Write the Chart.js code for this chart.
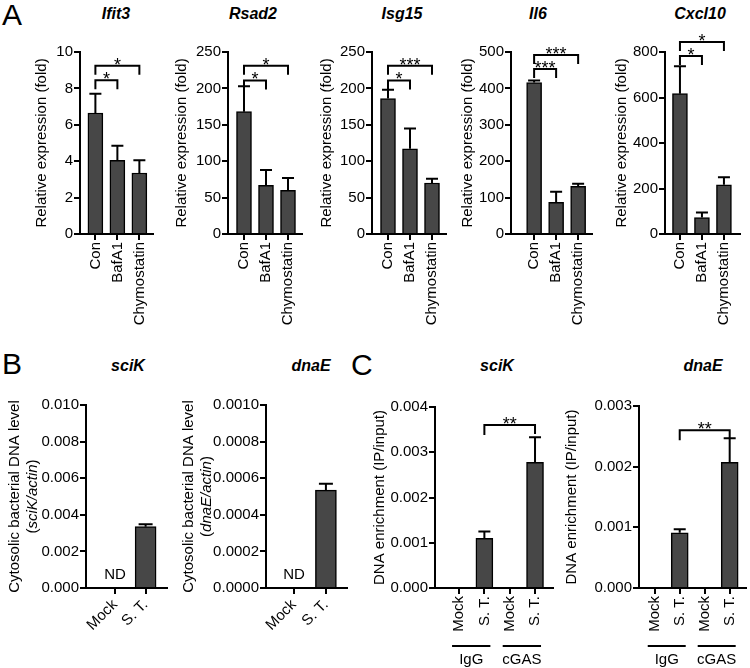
<!DOCTYPE html>
<html>
<head>
<meta charset="utf-8">
<script src="https://cdn.jsdelivr.net/npm/chart.js@4.4.1/dist/chart.umd.min.js"></script>
<style>
  body { margin: 0; background: #fff; }
  #fig { position: relative; width: 750px; height: 668px; overflow: hidden; font-family: "Liberation Sans", Arial, sans-serif; color: #000; }
  #fig canvas { position: absolute; }
  .lbl { position: absolute; font-size: 30px; line-height: 1; }
  .ttl { position: absolute; font-size: 16px; font-weight: bold; font-style: italic; line-height: 1; transform: translateX(-50%); white-space: nowrap; }
</style>
</head>
<body>
<div id="fig">
  <div class="lbl" style="left:2px;top:0">A</div>
  <div class="lbl" style="left:2px;top:349px">B</div>
  <div class="lbl" style="left:351px;top:350px">C</div>
  <div class="ttl" style="left:116px;top:6px">Ifit3</div>
  <div class="ttl" style="left:253px;top:6px">Rsad2</div>
  <div class="ttl" style="left:402px;top:6px">Isg15</div>
  <div class="ttl" style="left:538px;top:6px">Il6</div>
  <div class="ttl" style="left:700px;top:6px">Cxcl10</div>
  <div class="ttl" style="left:128px;top:358px">sciK</div>
  <div class="ttl" style="left:311px;top:358px">dnaE</div>
  <div class="ttl" style="left:497px;top:358px">sciK</div>
  <div class="ttl" style="left:703px;top:358px">dnaE</div>
</div>
<script>
// ---------- data ----------
const catsA = ['Con', 'BafA1', 'Chymostatin'];
const ifit3 = [6.65, 4.05, 3.35];
const ifit3Sem = [1.05, 0.8, 0.7];
const rsad2 = [168, 67, 60];
const rsad2Sem = [35, 21, 17];
const isg15 = [186, 117, 70];
const isg15Sem = [12, 28, 6];
const il6 = [416, 87, 131];
const il6Sem = [6, 29, 7];
const cxcl10 = [617, 72, 216];
const cxcl10Sem = [120, 23, 34];

const catsB = ['Mock', 'S. T.'];
const sciKCyto = [null, 0.00335];
const sciKCytoSem = [0, 0.00013];
const dnaECyto = [null, 0.000535];
const dnaECytoSem = [0, 0.000035];

const catsC = ['Mock', 'S. T.', 'Mock', 'S. T.'];
const groupsC = ['IgG', 'cGAS'];
const sciKChip = [null, 0.0011, null, 0.00278];
const sciKChipSem = [0, 0.00015, 0, 0.00055];
const dnaEChip = [null, 0.00091, null, 0.00207];
const dnaEChipSem = [0, 0.00006, 0, 0.0004];

// y axis ranges / tick steps
const yMaxA = [10, 250, 250, 500, 800];
const yStepA = [2, 50, 50, 100, 200];

// significance brackets (category index from/to, height in data units)
const ifit3Sig = [{ a: 0, b: 2, y: 9.25, t: '*' }, { a: 0, b: 1, y: 8.45, t: '*' }];
const rsad2Sig = [{ a: 0, b: 2, y: 231, t: '*' }, { a: 0, b: 1, y: 211, t: '*' }];
const isg15Sig = [{ a: 0, b: 2, y: 231, t: '***' }, { a: 0, b: 1, y: 211, t: '*' }];
const il6Sig = [{ a: 0, b: 2, y: 492, t: '***' }, { a: 0, b: 1, y: 453, t: '***' }];
const cxcl10Sig = [{ a: 0, b: 2, y: 844, t: '*' }, { a: 0, b: 1, y: 782, t: '*' }];
const sciKChipSig = [{ a: 1, b: 3, y: 0.0036, t: '**' }];
const dnaEChipSig = [{ a: 1, b: 3, y: 0.0026, t: '**' }];

// ---------- drawing ----------
const FONT = '"Liberation Sans", Arial, sans-serif';
Chart.defaults.font.family = FONT;
Chart.defaults.font.size = 15;
Chart.defaults.color = '#000';

const fig = document.getElementById('fig');

// error bars, brackets, ND, group lines, two-line y titles
const marks = {
  id: 'marks',
  afterDatasetsDraw(chart, args, o) {
    const ctx = chart.ctx, xs = chart.scales.x, ys = chart.scales.y;
    ctx.save();
    ctx.strokeStyle = '#000';
    ctx.fillStyle = '#000';
    ctx.lineWidth = 2;

    o.vals.forEach((v, i) => {
      if (v == null || !o.sem[i]) return;
      const bx = xs.getPixelForValue(i);
      const y0 = ys.getPixelForValue(v), y1 = ys.getPixelForValue(v + o.sem[i]);
      ctx.beginPath();
      ctx.moveTo(bx, y0); ctx.lineTo(bx, y1);
      ctx.moveTo(bx - o.cap, y1); ctx.lineTo(bx + o.cap, y1);
      ctx.stroke();
    });

    (o.sig || []).forEach(s => {
      const x1 = xs.getPixelForValue(s.a), x2 = xs.getPixelForValue(s.b), y = ys.getPixelForValue(s.y);
      ctx.beginPath();
      ctx.moveTo(x1, y + o.legL); ctx.lineTo(x1, y); ctx.lineTo(x2, y); ctx.lineTo(x2, y + o.legR);
      ctx.stroke();
      ctx.font = '18px ' + FONT;
      ctx.textAlign = 'center';
      ctx.textBaseline = 'alphabetic';
      ctx.fillText(s.t, (x1 + x2) / 2, y + 5);
    });

    if (o.nd != null) {
      ctx.font = '15px ' + FONT;
      ctx.textAlign = 'center';
      ctx.textBaseline = 'alphabetic';
      ctx.fillText('ND', xs.getPixelForValue(o.nd), ys.getPixelForValue(0) - 9);
    }

    if (o.groups) {
      const ly = chart.chartArea.bottom + 58;
      o.groups.forEach((g, k) => {
        const xa = xs.getPixelForValue(k * 2) - 7, xb = xs.getPixelForValue(k * 2 + 1) + 6;
        ctx.beginPath(); ctx.moveTo(xa, ly); ctx.lineTo(xb, ly); ctx.stroke();
        ctx.font = '15px ' + FONT;
        ctx.textAlign = 'center';
        ctx.textBaseline = 'alphabetic';
        ctx.fillText(g, (xa + xb) / 2, ly + 18);
      });
    }

    if (o.yLines) {
      const cy = (chart.chartArea.top + chart.chartArea.bottom) / 2;
      o.yLines.forEach((parts, li) => {
        ctx.save();
        ctx.translate(ys.left + 9 + li * 18, cy);
        ctx.rotate(-Math.PI / 2);
        ctx.textBaseline = 'middle';
        ctx.textAlign = 'left';
        const fonts = parts.map(p => (p[1] ? 'italic ' : '') + '15px ' + FONT);
        let tw = 0;
        parts.forEach((p, k) => { ctx.font = fonts[k]; tw += ctx.measureText(p[0]).width; });
        let x = -tw / 2;
        parts.forEach((p, k) => { ctx.font = fonts[k]; ctx.fillText(p[0], x, 0); x += ctx.measureText(p[0]).width; });
        ctx.restore();
      });
    }
    ctx.restore();
  }
};

function makeChart(c) {
  const cv = document.createElement('canvas');
  cv.width = c.w; cv.height = c.h;
  cv.style.left = c.x + 'px';
  cv.style.top = c.y + 'px';
  fig.appendChild(cv);

  return new Chart(cv, {
    type: 'bar',
    data: {
      datasets: [{
        data: c.vals.map((v, i) => ({ x: i, y: v })),
        backgroundColor: '#474747',
        borderColor: '#000',
        borderWidth: 1.5,
        barThickness: c.barW
      }]
    },
    options: {
      responsive: false,
      animation: false,
      layout: { padding: { top: c.padTop, right: c.padR, left: 0, bottom: 0 } },
      plugins: {
        legend: { display: false },
        tooltip: { enabled: false },
        marks: {
          vals: c.vals, sem: c.sem, cap: c.cap, sig: c.sig, legL: c.legL, legR: c.legR,
          nd: c.nd, groups: c.groups, yLines: c.yLines
        }
      },
      scales: {
        x: {
          type: 'linear', bounds: 'data', offset: false,
          min: c.xMin, max: c.xMax,
          afterBuildTicks: s => { s.ticks = c.cats.map((_, i) => ({ value: i })); },
          afterFit: s => { s.height = c.xh; },
          grid: { offset: false, drawOnChartArea: false, tickLength: 6, color: '#000', lineWidth: 2 },
          border: { color: '#000', width: 2 },
          ticks: {
            autoSkip: false, minRotation: c.rot, maxRotation: c.rot, padding: 2,
            callback: (v, i) => c.cats[i]
          }
        },
        y: {
          min: 0, max: c.yMax, bounds: 'data',
          afterFit: s => { s.width = c.yw; },
          grid: { drawOnChartArea: false, tickLength: 6, color: '#000', lineWidth: 2 },
          border: { color: '#000', width: 2 },
          ticks: { stepSize: c.yStep, padding: 1, callback: v => v.toFixed(c.digits) },
          title: { display: !!c.yTitle, text: c.yTitle, padding: 0, font: { size: 15 } }
        }
      }
    },
    plugins: [marks]
  });
}

// ---- panel A ----
const rowA = [
  { vals: ifit3, sem: ifit3Sem, sig: ifit3Sig, x: 33, w: 130, yw: 47, xMin: -0.7, xMax: 2.62 },
  { vals: rsad2, sem: rsad2Sem, sig: rsad2Sig, x: 173, w: 139, yw: 55, xMin: -0.727, xMax: 2.636 },
  { vals: isg15, sem: isg15Sem, sig: isg15Sig, x: 318, w: 138, yw: 54, xMin: -0.727, xMax: 2.636 },
  { vals: il6, sem: il6Sem, sig: il6Sig, x: 459, w: 143, yw: 52, xMin: -1.05, xMax: 2.63 },
  { vals: cxcl10, sem: cxcl10Sem, sig: cxcl10Sig, x: 613, w: 137, yw: 52, xMin: -0.68, xMax: 2.73 }
];
rowA.forEach((r, k) => {
  makeChart(Object.assign({
    y: 0, h: 330, padTop: 52, padR: 10, xh: 96, cats: catsA,
    yMax: yMaxA[k], yStep: yStepA[k], digits: 0, barW: 15, rot: 90, cap: 6, legL: 9, legR: 9,
    yTitle: 'Relative expression (fold)'
  }, r));
});

// ---- panel B ----
makeChart({
  vals: sciKCyto, sem: sciKCytoSem, cats: catsB, nd: 0,
  x: 6, y: 340, w: 171, h: 308, padTop: 65, padR: 10, yw: 80, xh: 60,
  xMin: -0.95, xMax: 1.70, barW: 21, rot: 45, cap: 7,
  yMax: 0.01, yStep: 0.002, digits: 3,
  yLines: [[['Cytosolic bacterial DNA level', false]], [['(', false], ['sciK/actin', true], [')', false]]]
});
makeChart({
  vals: dnaECyto, sem: dnaECytoSem, cats: catsB, nd: 0,
  x: 180, y: 340, w: 177, h: 308, padTop: 65, padR: 10, yw: 86, xh: 60,
  xMin: -0.875, xMax: 1.66, barW: 21, rot: 45, cap: 7,
  yMax: 0.001, yStep: 0.0002, digits: 4,
  yLines: [[['Cytosolic bacterial DNA level', false]], [['(', false], ['dnaE/actin', true], [')', false]]]
});

// ---- panel C ----
makeChart({
  vals: sciKChip, sem: sciKChipSem, cats: catsC, groups: groupsC, sig: sciKChipSig, legL: 10, legR: 9,
  x: 371, y: 340, w: 192, h: 328, padTop: 67, padR: 10, yw: 64, xh: 80,
  xMin: -0.95, xMax: 3.71, barW: 17, rot: 90, cap: 6,
  yMax: 0.004, yStep: 0.001, digits: 3, yTitle: 'DNA enrichment (IP/input)'
});
makeChart({
  vals: dnaEChip, sem: dnaEChipSem, cats: catsC, groups: groupsC, sig: dnaEChipSig, legL: 10, legR: 8,
  x: 563, y: 340, w: 187, h: 328, padTop: 66, padR: 2, yw: 76, xh: 80,
  xMin: -0.63, xMax: 3.67, barW: 17, rot: 90, cap: 6,
  yMax: 0.003, yStep: 0.001, digits: 3, yTitle: 'DNA enrichment (IP/input)'
});
</script>
</body>
</html>
